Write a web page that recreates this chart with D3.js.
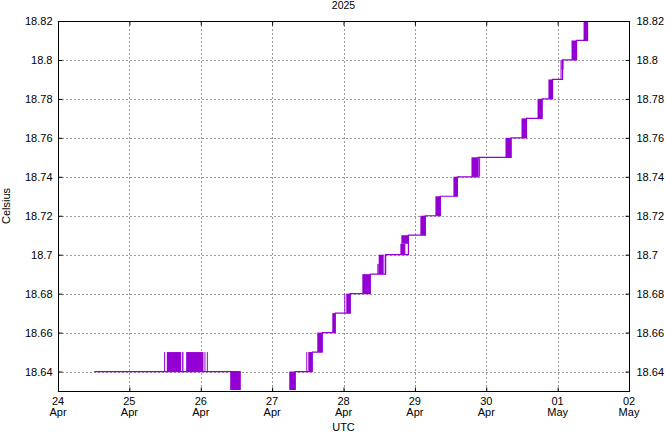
<!DOCTYPE html>
<html><head><meta charset="utf-8">
<script src="https://cdn.jsdelivr.net/npm/d3@7"></script>
<style>
body{margin:0;background:#fff}
svg{display:block}
text{font-family:"Liberation Sans",Arial,sans-serif;font-size:11px;fill:#000}
</style>
</head><body>
<svg id="c" width="665" height="432"></svg>
<script>
// ---------- data ----------
const chartTitle = "2025";
const xAxisLabel = "UTC";
const yAxisLabel = "Celsius";

const dayTicks   = ["2025-04-24","2025-04-25","2025-04-26","2025-04-27","2025-04-28","2025-04-29","2025-04-30","2025-05-01","2025-05-02"];
const dayLabels  = ["24","25","26","27","28","29","30","01","02"];
const monLabels  = ["Apr","Apr","Apr","Apr","Apr","Apr","Apr","May","May"];

const yTicks      = [18.64,18.66,18.68,18.70,18.72,18.74,18.76,18.78,18.80,18.82];
const yTickLabels = ["18.64","18.66","18.68","18.7","18.72","18.74","18.76","18.78","18.8","18.82"];

// step series: hours since 2025-04-24 00:00 UTC where a new level begins, and its value
const levelHours  = [12.2, 61.26, 79.78, 85.50, 88.86, 93.24, 98.29, 105.02, 110.17, 117.82, 123.53, 128.58, 134.31, 141.27, 152.38, 157.53, 162.81, 166.3, 169.65, 174.36, 178.07];
const levelValues = [18.64, 18.63, 18.64, 18.65, 18.66, 18.67, 18.68, 18.69, 18.70, 18.71, 18.72, 18.73, 18.74, 18.75, 18.76, 18.77, 18.78, 18.79, 18.80, 18.81, 18.82];

// flicker periods (reading toggling between two values): start hour, end hour, low, high
const flickStart = [35.68, 36.59, 41.74, 43.09, 49.25, 50.05, 57.90, 77.76, 83.48, 84.16, 87.18, 92.23, 96.27, 96.94, 102.33, 107.38, 107.83, 109.84, 115.12, 115.46, 121.85, 126.90, 132.96, 139.02, 141.60, 150.47, 155.85, 161.24, 164.90, 168.98, 169.32, 172.68, 176.72];
const flickEnd   = [35.92, 41.40, 42.18, 48.91, 49.58, 50.39, 61.26, 79.78, 83.70, 85.50, 88.86, 93.24, 96.50, 98.29, 105.02, 107.83, 109.51, 110.17, 116.80, 117.82, 123.53, 128.58, 134.31, 141.27, 141.80, 152.38, 157.53, 162.81, 166.30, 169.32, 169.99, 174.36, 178.07];
const flickLow   = [18.64, 18.64, 18.64, 18.64, 18.64, 18.64, 18.63, 18.63, 18.64, 18.64, 18.65, 18.66, 18.67, 18.67, 18.68, 18.69, 18.69, 18.69, 18.70, 18.7056, 18.71, 18.72, 18.73, 18.74, 18.74, 18.75, 18.76, 18.77, 18.78, 18.79, 18.795, 18.80, 18.81];
const flickHigh  = [18.65, 18.65, 18.65, 18.65, 18.65, 18.65, 18.64, 18.64, 18.65, 18.65, 18.66, 18.67, 18.68, 18.68, 18.69, 18.6953, 18.70, 18.70, 18.7056, 18.71, 18.72, 18.73, 18.74, 18.75, 18.75, 18.76, 18.77, 18.78, 18.79, 18.80, 18.80, 18.81, 18.82];

// ---------- chart ----------
const color = "#9400d3";
const L = 58, R = 629, T = 21, B = 391;
const t0 = Date.UTC(2025, 3, 24);
const toDate = h => new Date(t0 + h * 3600e3);

const svg = d3.select("#c");
const x = d3.scaleUtc().domain([new Date("2025-04-24T00:00:00Z"), new Date("2025-05-02T00:00:00Z")]).range([L, R]);
const y = d3.scaleLinear().domain([18.63, 18.82]).range([B, T]);
const tickDates = dayTicks.map(d => new Date(d + "T00:00:00Z"));

svg.append("defs").append("clipPath").attr("id", "clip")
  .append("rect").attr("x", L).attr("y", T).attr("width", R - L).attr("height", B - T - 1);

// grid
const grid = svg.append("g").attr("stroke", "#9a9a9a").attr("stroke-width", 1).attr("stroke-dasharray", "2,2");
grid.selectAll("line.gx").data(tickDates).join("line")
  .attr("x1", d => Math.round(x(d)) + 0.5).attr("x2", d => Math.round(x(d)) + 0.5)
  .attr("y1", T).attr("y2", B);
grid.selectAll("line.gy").data(yTicks).join("line")
  .attr("y1", d => Math.round(y(d)) + 0.5).attr("y2", d => Math.round(y(d)) + 0.5)
  .attr("x1", L).attr("x2", R);

// data
const plot = svg.append("g").attr("clip-path", "url(#clip)");
const bands = flickStart.map((s, i) => ({s: s, e: flickEnd[i], lo: flickLow[i], hi: flickHigh[i]}));
plot.selectAll("rect.band").data(bands).join("rect")
  .attr("x", d => x(toDate(d.s)))
  .attr("width", d => Math.max(1, x(toDate(d.e)) - x(toDate(d.s))))
  .attr("y", d => y(d.hi))
  .attr("height", d => y(d.lo) - y(d.hi))
  .attr("fill", color);

const pts = levelHours.map((h, i) => [toDate(h), levelValues[i]]);
plot.append("path").datum(pts)
  .attr("fill", "none").attr("stroke", color).attr("stroke-width", 1.2)
  .attr("d", d3.line().x(d => x(d[0])).y(d => y(d[1])).curve(d3.curveStepAfter));

// axes (gnuplot-style inward ticks, mirrored)
const axB = svg.append("g").attr("transform", `translate(0,${B + 0.5})`)
  .call(d3.axisBottom(x).tickValues(tickDates).tickSize(-4).tickFormat(""));
const axT = svg.append("g").attr("transform", `translate(0,${T + 0.5})`)
  .call(d3.axisTop(x).tickValues(tickDates).tickSize(-4).tickFormat(""));
const axL = svg.append("g").attr("transform", `translate(${L + 0.5},0)`)
  .call(d3.axisLeft(y).tickValues(yTicks).tickSize(-4).tickPadding(6).tickFormat((d, i) => yTickLabels[i]));
const axR = svg.append("g").attr("transform", `translate(${R + 0.5},0)`)
  .call(d3.axisRight(y).tickValues(yTicks).tickSize(-4).tickPadding(7).tickFormat((d, i) => yTickLabels[i]));
[axB, axT, axL, axR].forEach(g => {
  g.select(".domain").remove();
  g.selectAll("text").attr("font-family", null).attr("font-size", null).attr("fill", "#000");
  g.selectAll("line").attr("stroke", "#000");
});

// border
svg.append("rect").attr("x", L + 0.5).attr("y", T + 0.5).attr("width", R - L).attr("height", B - T)
  .attr("fill", "none").attr("stroke", "#000").attr("stroke-width", 1);

// x labels (two lines)
const xl = svg.append("g");
xl.selectAll("text.d").data(tickDates).join("text").attr("class", "d")
  .attr("x", d => x(d)).attr("y", 405).attr("text-anchor", "middle").text((d, i) => dayLabels[i]);
xl.selectAll("text.m").data(tickDates).join("text").attr("class", "m")
  .attr("x", d => x(d)).attr("y", 415.5).attr("text-anchor", "middle").text((d, i) => monLabels[i]);

// titles
svg.append("text").attr("x", (L + R) / 2).attr("y", 8.5).attr("text-anchor", "middle").style("font-size", "10.5px").text(chartTitle);
svg.append("text").attr("x", (L + R) / 2).attr("y", 431).attr("text-anchor", "middle").text(xAxisLabel);
svg.append("text").attr("transform", `translate(9.5,${(T + B) / 2}) rotate(-90)`).attr("text-anchor", "middle").text(yAxisLabel);
</script>
</body></html>
